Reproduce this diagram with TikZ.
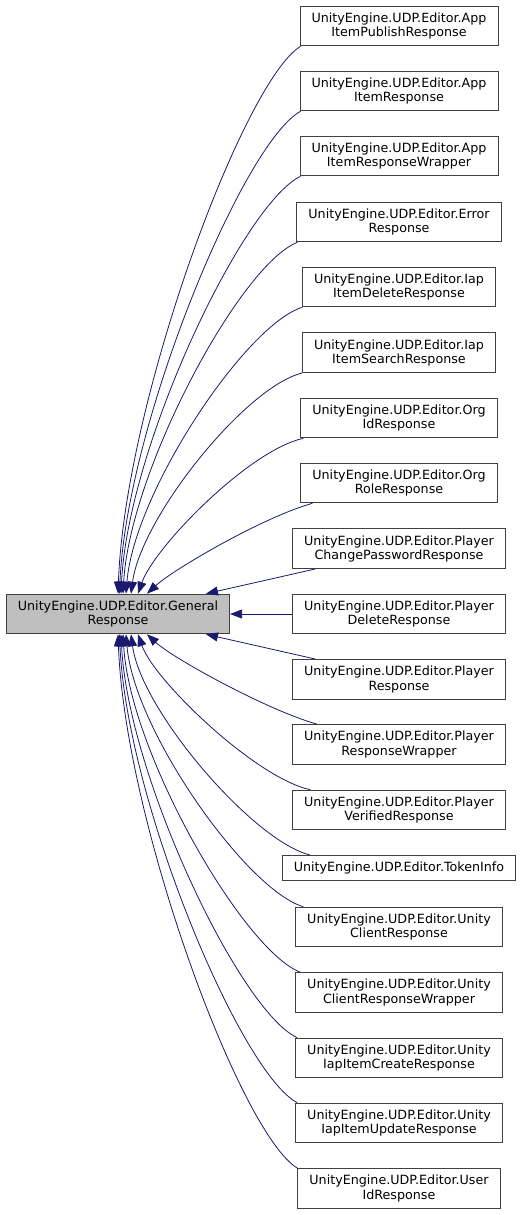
\documentclass[tikz,border=0pt]{standalone}
\usepackage{fontspec}
\setmainfont{DejaVu Sans}
\usetikzlibrary{arrows.meta}
\definecolor{edgeblue}{HTML}{191970}
\definecolor{boxline}{HTML}{404040}
\tikzset{
  cls/.style={draw=boxline, line width=0.9pt, align=center, inner xsep=11.5pt, inner ysep=6.5pt,
    font=\fontsize{12.7}{14.4}\selectfont},
  genbox/.style={cls, fill=black!25},
  inh/.style={draw=edgeblue, line width=0.8pt, -{Triangle[length=12pt,width=9pt]}}
}
\begin{document}
\begin{tikzpicture}[x=1pt, y=-1pt]
    \useasboundingbox (0,0) rectangle (524,1215);
    \node[genbox] (gen) at (118,614) {UnityEngine.UDP.Editor.General\\Response};
    \foreach \cn/\cy/\txt in {
        app1/26/{UnityEngine.UDP.Editor.App\\ItemPublishResponse},
        app2/91/{UnityEngine.UDP.Editor.App\\ItemResponse},
        app3/156/{UnityEngine.UDP.Editor.App\\ItemResponseWrapper},
        err/222/{UnityEngine.UDP.Editor.Error\\Response},
        iapdel/287/{UnityEngine.UDP.Editor.Iap\\ItemDeleteResponse},
        iapsrch/352.7/{UnityEngine.UDP.Editor.Iap\\ItemSearchResponse},
        orgid/418/{UnityEngine.UDP.Editor.Org\\IdResponse},
        orgrole/483/{UnityEngine.UDP.Editor.Org\\RoleResponse},
        plchg/548.7/{UnityEngine.UDP.Editor.Player\\ChangePasswordResponse},
        pldel/614/{UnityEngine.UDP.Editor.Player\\DeleteResponse},
        plresp/679.3/{UnityEngine.UDP.Editor.Player\\Response},
        plwrap/744.5/{UnityEngine.UDP.Editor.Player\\ResponseWrapper},
        plver/810/{UnityEngine.UDP.Editor.Player\\VerifiedResponse},
        token/868/{UnityEngine.UDP.Editor.TokenInfo},
        ucl/927/{UnityEngine.UDP.Editor.Unity\\ClientResponse},
        uclwrap/992.5/{UnityEngine.UDP.Editor.Unity\\ClientResponseWrapper},
        ucreate/1058/{UnityEngine.UDP.Editor.Unity\\IapItemCreateResponse},
        uupdate/1123/{UnityEngine.UDP.Editor.Unity\\IapItemUpdateResponse},
        user/1188.5/{UnityEngine.UDP.Editor.User\\IdResponse}}
        \node[cls] (\cn) at (399,\cy) {\txt};
    % upper fan
    \foreach \cn/\sx/\tx/\ax/\ay/\bx/\by in {app1/1/0/-57/35/7/-193, app2/1/1.5/-57/31/7/-170,
        app3/1/3/-57/27/7/-148, err/1/5/-57/22/7/-124, iapdel/0/8/-57/18/8/-101,
        iapsrch/0/13/-57/14/10/-76, orgid/3/20/-55/12/16/-46, orgrole/12/29/-50/14/26/-24}
        \draw[inh] ([xshift=\sx pt]\cn.south west) .. controls +(\ax,\ay) and +(\bx,\by) .. ([xshift=\tx pt]gen.north);
    \draw[inh] ([xshift=23pt]plchg.south west) -- ([xshift=88pt]gen.north);
    \draw[inh] (pldel.west) -- (gen.east);
    \draw[inh] ([xshift=23pt]plresp.north west) -- ([xshift=88pt]gen.south);
    % lower fan
    \foreach \cn/\sx/\tx/\ax/\ay/\bx/\by in {plwrap/25/29/-50/-14/26/24, plver/18/20/-55/-12/16/46,
        token/28/13/-57/-14/10/76, ucl/8/8/-57/-17/8/96, uclwrap/5/5/-57/-22/7/119,
        ucreate/2/3/-57/-26/7/142, uupdate/2/1.5/-57/-30/7/166, user/0/0/-57/-34/7/188}
        \draw[inh] ([xshift=\sx pt]\cn.north west) .. controls +(\ax,\ay) and +(\bx,\by) .. ([xshift=\tx pt]gen.south);
\end{tikzpicture}
\end{document}
